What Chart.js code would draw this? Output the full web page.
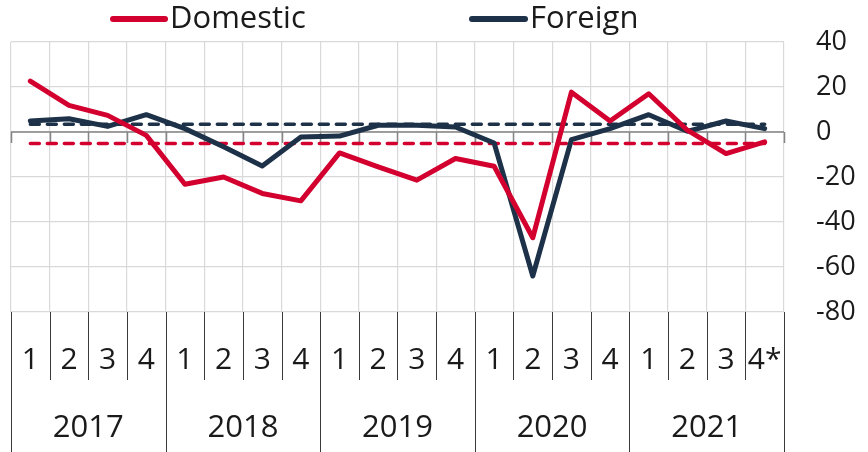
<!DOCTYPE html>
<html>
<head>
<meta charset="utf-8">
<script src="https://cdn.jsdelivr.net/npm/chart.js@4.4.1/dist/chart.umd.min.js"></script>
<style>
  html, body { margin: 0; padding: 0; background: #fff; }
  #wrap { width: 868px; height: 452px; }
</style>
</head>
<body>
<div id="wrap"><canvas id="chart" width="868" height="452"></canvas></div>
<script>
// data
const years = ["2017", "2018", "2019", "2020", "2021"];
const quarters = ["1", "2", "3", "4", "1", "2", "3", "4", "1", "2", "3", "4",
                  "1", "2", "3", "4", "1", "2", "3", "4*"];
const domestic = [22.6, 11.8, 7.4, -1.5, -23.2, -20, -27.3, -30.6, -9.3, -15.5,
                  -21.4, -11.8, -15.2, -47, 17.7, 4.9, 17, 0.8, -9.6, -4.4];
const foreign = [4.9, 5.9, 2.5, 7.7, 1.5, -6.6, -15.1, -2.2, -1.8, 3,
                 3, 2.2, -4.9, -64, -3.4, 1.5, 7.7, 0.3, 4.9, 1.5];
const domesticAvg = -5.1;
const foreignAvg = 3.4;
const yMin = -80, yMax = 40, yStep = 20;

const RED = "#d3002f";
const NAVY = "#1d3249";
const TEXT = "#1a1a1a";
const FONT = "'Open Sans', sans-serif";

const labels = quarters.map((q, i) => years[Math.floor(i / 4)] + " " + q);

// dashed average lines, same value at every quarter
const domesticAvgLine = quarters.map(() => domesticAvg);
const foreignAvgLine = quarters.map(() => foreignAvg);

const extras = {
    id: "extras",
    beforeDatasetsDraw(chart) {
        const { ctx, chartArea } = chart;
        const x = chart.scales.x;
        const y0 = chart.scales.y.getPixelForValue(0);
        const step = x.getPixelForValue(1) - x.getPixelForValue(0);
        ctx.save();
        ctx.strokeStyle = "#858585";
        ctx.lineWidth = 1.5;
        ctx.beginPath();
        ctx.moveTo(chartArea.left, y0);
        ctx.lineTo(chartArea.right, y0);
        for (let i = 0; i <= quarters.length; i++) {
            const bx = Math.round(x.getPixelForValue(0) - step / 2 + i * step) + 0.5;
            ctx.moveTo(bx, y0);
            ctx.lineTo(bx, y0 + 11);
        }
        ctx.stroke();
        ctx.restore();
    },
    afterDraw(chart) {
        const { ctx, chartArea } = chart;
        const x = chart.scales.x;
        const step = x.getPixelForValue(1) - x.getPixelForValue(0);
        const top = chartArea.bottom;
        ctx.save();

        // separators under the plot
        ctx.strokeStyle = "#3a3a3a";
        ctx.lineWidth = 1;
        ctx.beginPath();
        for (let i = 0; i <= quarters.length; i++) {
            const bx = Math.round(x.getPixelForValue(0) - step / 2 + i * step) + 0.5;
            const full = i % 4 === 0;
            ctx.moveTo(bx, top);
            ctx.lineTo(bx, full ? 452 : top + 68);
        }
        ctx.stroke();

        // quarter and year labels
        ctx.fillStyle = TEXT;
        ctx.textAlign = "center";
        ctx.textBaseline = "middle";
        ctx.font = "30px " + FONT;
        quarters.forEach((q, i) => {
            ctx.fillText(q, x.getPixelForValue(i), top + 48);
        });
        ctx.font = "31px " + FONT;
        years.forEach((yr, k) => {
            const cx = (x.getPixelForValue(k * 4) + x.getPixelForValue(k * 4 + 3)) / 2;
            ctx.fillText(yr, cx, top + 116);
        });

        // legend
        const items = [
            { text: "Domestic", color: RED, x1: 113, x2: 165 },
            { text: "Foreign", color: NAVY, x1: 472, x2: 525 }
        ];
        ctx.font = "31px " + FONT;
        ctx.textAlign = "left";
        ctx.lineCap = "round";
        ctx.lineWidth = 6;
        items.forEach(it => {
            ctx.strokeStyle = it.color;
            ctx.beginPath();
            ctx.moveTo(it.x1, 19);
            ctx.lineTo(it.x2, 19);
            ctx.stroke();
            ctx.fillText(it.text, it.x2 + 5, 19);
        });
        ctx.restore();
    }
};

new Chart(document.getElementById("chart"), {
    type: "line",
    data: {
        labels: labels,
        datasets: [
            {
                label: "Domestic",
                data: domestic,
                borderColor: RED,
                borderWidth: 5,
                borderJoinStyle: "round",
                borderCapStyle: "round",
                pointRadius: 0
            },
            {
                label: "Foreign",
                data: foreign,
                borderColor: NAVY,
                borderWidth: 5,
                borderJoinStyle: "round",
                borderCapStyle: "round",
                pointRadius: 0
            },
            {
                label: "Domestic average",
                data: domesticAvgLine,
                borderColor: RED,
                borderWidth: 3.5,
                borderDash: [9, 8],
                borderCapStyle: "round",
                pointRadius: 0
            },
            {
                label: "Foreign average",
                data: foreignAvgLine,
                borderColor: NAVY,
                borderWidth: 3.5,
                borderDash: [9, 8],
                borderCapStyle: "round",
                pointRadius: 0
            }
        ]
    },
    options: {
        responsive: false,
        animation: false,
        layout: { padding: { top: 42, left: 11, right: 0, bottom: 0 } },
        plugins: {
            legend: { display: false },
            tooltip: { enabled: false }
        },
        scales: {
            x: {
                type: "category",
                offset: true,
                grid: { offset: true, color: "#d9d9d9", lineWidth: 1.2, drawTicks: false },
                border: { display: false },
                ticks: { display: false },
                afterFit(scale) {
                    scale.height = 140;
                    scale.paddingLeft = 0;
                    scale.paddingRight = 0;
                }
            },
            y: {
                position: "right",
                min: yMin,
                max: yMax,
                grid: { color: "#d9d9d9", lineWidth: 1.2, drawTicks: false },
                border: { display: false },
                ticks: {
                    stepSize: yStep,
                    padding: 32,
                    color: TEXT,
                    font: { family: FONT, size: 27 }
                },
                afterFit(scale) {
                    scale.width = 84;
                    scale.paddingTop = 0;
                    scale.paddingBottom = 0;
                }
            }
        }
    },
    plugins: [extras]
});
</script>
</body>
</html>
